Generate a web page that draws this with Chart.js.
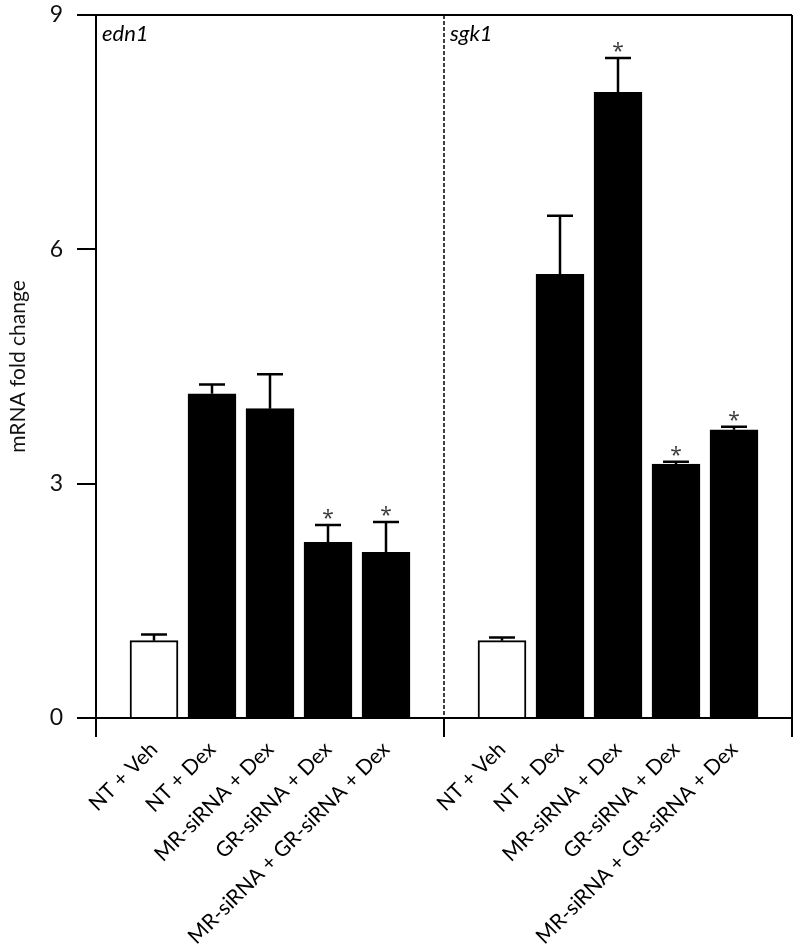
<!DOCTYPE html>
<html>
<head>
<meta charset="utf-8">
<script src="https://cdn.jsdelivr.net/npm/chart.js@4/dist/chart.umd.min.js"></script>
<style>
  html, body { margin: 0; padding: 0; background: #fff; }
  #wrap { width: 800px; height: 951px; position: relative; }
</style>
</head>
<body>
<div id="wrap"><canvas id="qpcrChart"></canvas></div>
<script>
// treatment groups, same order in both panels
var groups = ['NT + Veh', 'NT + Dex', 'MR-siRNA + Dex', 'GR-siRNA + Dex', 'MR-siRNA + GR-siRNA + Dex'];
var panels = ['edn1', 'sgk1'];

// mean fold change and top of error bar (mean + SEM)
var edn1Mean = [0.99, 4.15, 3.96, 2.25, 2.12];
var edn1Upper = [1.07, 4.27, 4.40, 2.47, 2.51];
var sgk1Mean = [0.99, 5.68, 8.01, 3.25, 3.69];
var sgk1Upper = [1.03, 6.43, 8.45, 3.28, 3.73];

// significance marks (*)
var edn1Sig = [false, false, false, true, true];
var sgk1Sig = [false, false, true, true, true];

var yTicks = [0, 3, 6, 9];

// build one category axis: blank slot | 5 edn1 groups | divider | 5 sgk1 groups | blank slot
var labels = [''].concat(groups, [''], groups, ['']);
var means = [null].concat(edn1Mean, [null], sgk1Mean, [null]);
var uppers = [null].concat(edn1Upper, [null], sgk1Upper, [null]);
var sig = [false].concat(edn1Sig, [false], sgk1Sig, [false]);
var fills = labels.map(function (l) { return l === 'NT + Veh' ? '#ffffff' : '#000000'; });
var edgeIdx = [0, groups.length + 1, labels.length - 1];

var FONT = 'Lato, "Open Sans", sans-serif';

var errorBars = {
    id: 'errorBars',
    afterDatasetsDraw: function (chart) {
        var ctx = chart.ctx;
        var y = chart.scales.y;
        var meta = chart.getDatasetMeta(0);
        ctx.save();
        ctx.strokeStyle = '#000';
        ctx.lineWidth = 2.5;
        meta.data.forEach(function (bar, i) {
            if (uppers[i] == null) return;
            var yTop = y.getPixelForValue(means[i]);
            var yErr = y.getPixelForValue(uppers[i]);
            ctx.beginPath();
            ctx.moveTo(bar.x, yTop);
            ctx.lineTo(bar.x, yErr);
            ctx.moveTo(bar.x - 13, yErr);
            ctx.lineTo(bar.x + 13, yErr);
            ctx.stroke();
            if (sig[i]) {
                ctx.fillStyle = '#3a3a3a';
                ctx.font = '21px "Open Sans", sans-serif';
                ctx.textAlign = 'center';
                ctx.textBaseline = 'alphabetic';
                ctx.fillText('*', bar.x, yErr);
            }
        });
        ctx.restore();
    }
};

var panelFrame = {
    id: 'panelFrame',
    afterDraw: function (chart) {
        var ctx = chart.ctx;
        var area = chart.chartArea;
        var xDiv = chart.scales.x.getPixelForTick(groups.length + 1);
        ctx.save();
        ctx.strokeStyle = '#000';
        ctx.lineWidth = 1.5;
        ctx.setLineDash([4, 2]);
        ctx.beginPath();
        ctx.moveTo(xDiv, area.top);
        ctx.lineTo(xDiv, area.bottom);
        ctx.stroke();
        ctx.setLineDash([]);
        ctx.fillStyle = '#000';
        ctx.font = 'italic 22px ' + FONT;
        ctx.textAlign = 'left';
        ctx.textBaseline = 'alphabetic';
        ctx.fillText(panels[0], area.left + 6, area.top + 26);
        ctx.fillText(panels[1], xDiv + 6, area.top + 26);
        ctx.restore();
    }
};

new Chart(document.getElementById('qpcrChart').getContext('2d'), {
    type: 'bar',
    data: {
        labels: labels,
        datasets: [{
            label: 'mRNA fold change',
            data: means,
            backgroundColor: fills,
            borderColor: '#000',
            borderWidth: 2,
            barThickness: 48
        }]
    },
    options: {
        responsive: true,
        maintainAspectRatio: false,
        animation: false,
        layout: { padding: { top: 15, right: 8, left: 0, bottom: 0 } },
        plugins: {
            legend: { display: false },
            tooltip: { enabled: false }
        },
        scales: {
            x: {
                type: 'category',
                offset: false,
                grid: {
                    offset: false,
                    drawOnChartArea: true,
                    lineWidth: 2,
                    color: function (c) { return c.index === labels.length - 1 ? '#000' : 'rgba(0,0,0,0)'; },
                    tickColor: function (c) { return edgeIdx.indexOf(c.index) >= 0 ? '#000' : 'rgba(0,0,0,0)'; },
                    tickWidth: 2,
                    tickLength: 19
                },
                border: { display: true, color: '#000', width: 2 },
                ticks: {
                    autoSkip: false,
                    maxRotation: 45,
                    minRotation: 45,
                    padding: 0,
                    color: '#000',
                    font: { family: FONT, size: 21 }
                },
                afterFit: function (scale) {
                    scale.height = 233;
                    scale.paddingLeft = 0;
                    scale.paddingRight = 0;
                }
            },
            y: {
                min: 0,
                max: 9,
                afterBuildTicks: function (scale) {
                    scale.ticks = yTicks.map(function (v) { return { value: v }; });
                },
                grid: {
                    drawOnChartArea: true,
                    lineWidth: 2,
                    color: function (c) { return c.tick && c.tick.value === 9 ? '#000' : 'rgba(0,0,0,0)'; },
                    tickColor: '#000',
                    tickWidth: 2,
                    tickLength: 19
                },
                border: { display: true, color: '#000', width: 2 },
                ticks: {
                    padding: 14,
                    color: '#111',
                    font: { family: FONT, size: 23 }
                },
                title: {
                    display: true,
                    text: 'mRNA fold change',
                    color: '#111',
                    font: { family: FONT, size: 21 },
                    padding: { top: 6, bottom: 0 }
                },
                afterFit: function (scale) {
                    scale.width = 96;
                    scale.paddingTop = 0;
                    scale.paddingBottom = 0;
                }
            }
        }
    },
    plugins: [errorBars, panelFrame]
});
</script>
</body>
</html>
